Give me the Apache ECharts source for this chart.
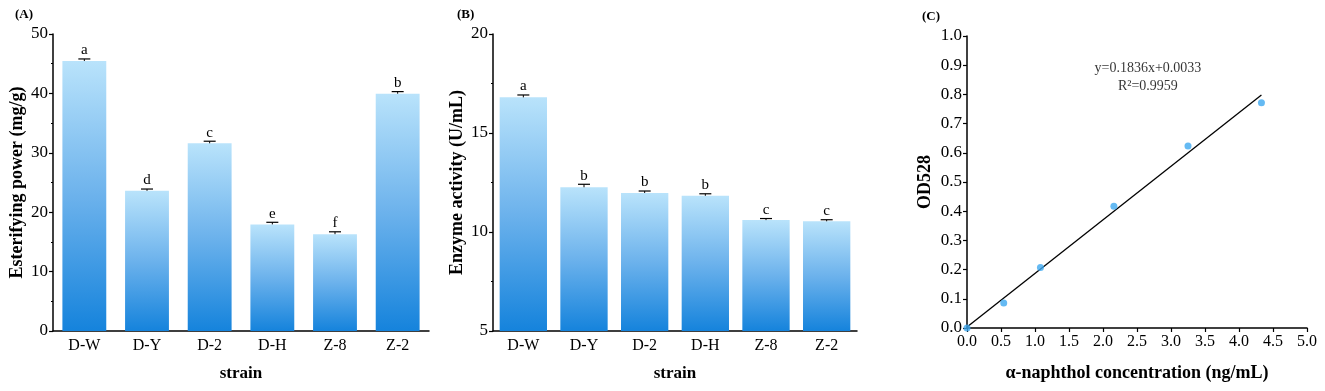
<!DOCTYPE html>
<html>
<head>
<meta charset="utf-8">
<script src="https://cdn.jsdelivr.net/npm/echarts@6/dist/echarts.min.js"></script>
<style>
  html, body {margin: 0; padding: 0; background: #fff;}
  #chart {width: 1325px; height: 391px;}
</style>
</head>
<body>
<div id="chart"></div>
<script>
const strains = ['D-W', 'D-Y', 'D-2', 'D-H', 'Z-8', 'Z-2'];

// (A) esterifying power
const esterValues = [45.45, 23.6, 31.6, 17.95, 16.3, 39.95];
const esterErrors = [0.35, 0.3, 0.35, 0.35, 0.4, 0.35];
const esterLetters = ['a', 'd', 'c', 'e', 'f', 'b'];

// (B) enzyme activity
const enzymeValues = [16.8, 12.26, 11.97, 11.83, 10.6, 10.54];
const enzymeErrors = [0.12, 0.15, 0.1, 0.1, 0.08, 0.08];
const enzymeLetters = ['a', 'b', 'b', 'b', 'c', 'c'];

// (C) standard curve
const stdX = [0, 0.54, 1.08, 2.16, 3.25, 4.33];
const stdY = [0, 0.086, 0.207, 0.417, 0.623, 0.771];
const fitLine = [[0, 0.0033], [4.33, 0.7983]];
const fitText = ['y=0.1836x+0.0033', 'R²=0.9959'];

const FONT = 'Liberation Serif';
const chart = echarts.init(document.getElementById('chart'));

const barColor = new echarts.graphic.LinearGradient(0, 0, 0, 1, [
  {offset: 0, color: '#b9e3fb'},
  {offset: 0.5, color: '#6cb2ec'},
  {offset: 1, color: '#1583dc'}
]);

const errorSeries = (idx, values, errors, letters) => ({
  type: 'custom',
  xAxisIndex: idx,
  yAxisIndex: idx,
  data: values.map((v, i) => [i, v, errors[i]]),
  z: 5,
  renderItem: (params, api) => {
    const i = api.value(0);
    const v = api.value(1);
    const e = api.value(2);
    const top = api.coord([i, v + e]);
    const base = api.coord([i, v]);
    const half = 6;
    return {
      type: 'group',
      children: [
        {type: 'line', shape: {x1: top[0], y1: top[1], x2: top[0], y2: base[1]},
          style: {stroke: '#000', lineWidth: 1}},
        {type: 'line', shape: {x1: top[0] - half, y1: top[1], x2: top[0] + half, y2: top[1]},
          style: {stroke: '#000', lineWidth: 1.2}},
        {type: 'text', x: top[0], y: top[1] - 1,
          style: {text: letters[i], fontFamily: FONT, fontSize: 15, fill: '#000',
            align: 'center', verticalAlign: 'bottom'}}
      ]
    };
  }
});

const axisLine = {lineStyle: {color: '#000', width: 1.5}};
const axisLabel = {color: '#000', fontFamily: FONT, fontSize: 17};
const nameStyle = {color: '#000', fontFamily: FONT, fontSize: 18, fontWeight: 'bold'};

const catAxis = (idx) => ({
  type: 'category',
  gridIndex: idx,
  data: strains,
  name: 'strain',
  nameLocation: 'middle',
  nameGap: 34,
  nameTextStyle: Object.assign({}, nameStyle, {fontSize: 17}),
  axisLine: axisLine,
  axisTick: {show: false},
  axisLabel: Object.assign({margin: 7}, axisLabel, {fontSize: 16})
});

const valAxis = (idx, name, min, max, interval) => ({
  type: 'value',
  gridIndex: idx,
  min: min,
  max: max,
  interval: interval,
  name: name,
  nameLocation: 'middle',
  nameGap: 27,
  nameTextStyle: nameStyle,
  axisLine: Object.assign({show: true}, axisLine),
  axisTick: {show: true, length: 4, lineStyle: {color: '#000', width: 1.2}},
  minorTick: {show: true, splitNumber: 2, length: 2, lineStyle: {color: '#000', width: 1}},
  axisLabel: Object.assign({margin: 5}, axisLabel),
  splitLine: {show: false}
});

chart.setOption({
  animation: false,
  textStyle: {fontFamily: FONT},
  graphic: [
    {type: 'text', left: 15, top: 8, style: {text: '(A)', font: 'bold 13px "Liberation Serif"', fill: '#000'}},
    {type: 'text', left: 457, top: 8, style: {text: '(B)', font: 'bold 13px "Liberation Serif"', fill: '#000'}},
    {type: 'text', left: 922, top: 10, style: {text: '(C)', font: 'bold 13px "Liberation Serif"', fill: '#000'}}
  ],
  grid: [
    {left: 53, top: 34, width: 376, height: 297},
    {left: 493, top: 34, width: 364, height: 297},
    {left: 967, top: 36, width: 340, height: 292}
  ],
  xAxis: [
    catAxis(0),
    catAxis(1),
    {
      type: 'value',
      gridIndex: 2,
      min: 0,
      max: 5,
      interval: 0.5,
      name: 'α-naphthol concentration (ng/mL)',
      nameLocation: 'middle',
      nameGap: 36,
      nameTextStyle: nameStyle,
      axisLine: axisLine,
      axisTick: {show: true, length: 4, lineStyle: {color: '#000', width: 1.2}},
      axisLabel: Object.assign({margin: 6, formatter: v => v.toFixed(1)}, axisLabel, {fontSize: 16}),
      splitLine: {show: false}
    }
  ],
  yAxis: [
    valAxis(0, 'Esterifying power (mg/g)', 0, 50, 10),
    valAxis(1, 'Enzyme activity (U/mL)', 5, 20, 5),
    {
      type: 'value',
      gridIndex: 2,
      min: 0,
      max: 1,
      interval: 0.1,
      name: 'OD528',
      nameLocation: 'middle',
      nameGap: 33,
      nameTextStyle: nameStyle,
      axisLine: Object.assign({show: true}, axisLine),
      axisTick: {show: true, length: 4, lineStyle: {color: '#000', width: 1.2}},
      axisLabel: Object.assign({margin: 5, formatter: v => v.toFixed(1)}, axisLabel),
      splitLine: {show: false}
    }
  ],
  series: [
    {
      type: 'bar',
      xAxisIndex: 0,
      yAxisIndex: 0,
      data: esterValues,
      barWidth: '70%',
      itemStyle: {color: barColor}
    },
    errorSeries(0, esterValues, esterErrors, esterLetters),
    {
      type: 'bar',
      xAxisIndex: 1,
      yAxisIndex: 1,
      data: enzymeValues,
      barWidth: '78%',
      itemStyle: {color: barColor}
    },
    errorSeries(1, enzymeValues, enzymeErrors, enzymeLetters),
    {
      type: 'line',
      xAxisIndex: 2,
      yAxisIndex: 2,
      data: fitLine,
      symbol: 'none',
      lineStyle: {color: '#000', width: 1.3}
    },
    {
      type: 'scatter',
      xAxisIndex: 2,
      yAxisIndex: 2,
      data: stdX.map((x, i) => [x, stdY[i]]),
      symbolSize: 7,
      itemStyle: {color: '#3fa9f0'},
      z: 3
    },
    {
      // equation text, anchored in data space
      type: 'scatter',
      xAxisIndex: 2,
      yAxisIndex: 2,
      data: [[2.66, 0.858]],
      symbolSize: 1,
      itemStyle: {color: 'rgba(0,0,0,0)'},
      silent: true,
      label: {
        show: true,
        position: 'inside',
        formatter: fitText.join('\n'),
        color: '#000',
        textBorderWidth: 0,
        fontFamily: FONT,
        fontSize: 14,
        lineHeight: 18,
        align: 'center',
        verticalAlign: 'middle'
      }
    }
  ]
});
</script>
</body>
</html>
